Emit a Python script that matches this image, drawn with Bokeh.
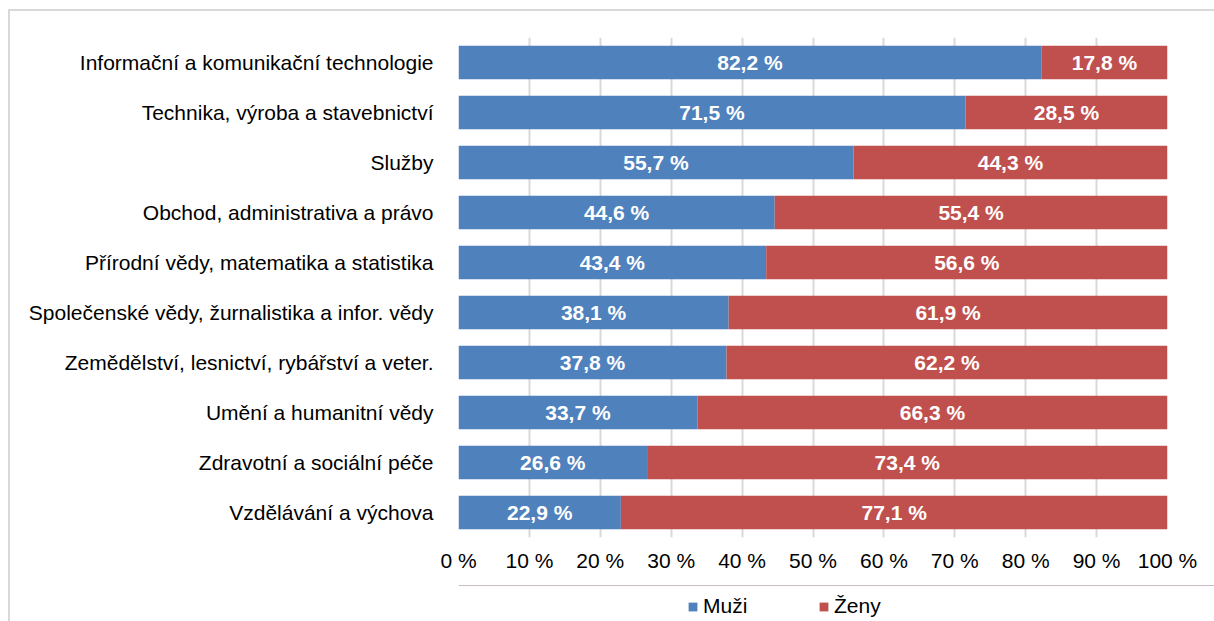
from bokeh.plotting import figure
from bokeh.layouts import column
from bokeh.models import (ColumnDataSource, FactorRange, Range1d, FixedTicker, LabelSet,
                          Legend, LegendItem)
from bokeh.core.properties import value
from bokeh.embed import file_html
from bokeh.resources import INLINE

categories = [
    "Informační a komunikační technologie",
    "Technika, výroba a stavebnictví",
    "Služby",
    "Obchod, administrativa a právo",
    "Přírodní vědy, matematika a statistika",
    "Společenské vědy, žurnalistika a infor. vědy",
    "Zemědělství, lesnictví, rybářství a veter.",
    "Umění a humanitní vědy",
    "Zdravotní a sociální péče",
    "Vzdělávání a výchova",
]
muzi = [82.2, 71.5, 55.7, 44.6, 43.4, 38.1, 37.8, 33.7, 26.6, 22.9]
zeny = [17.8, 28.5, 44.3, 55.4, 56.6, 61.9, 62.2, 66.3, 73.4, 77.1]
x_ticks = [0, 10, 20, 30, 40, 50, 60, 70, 80, 90, 100]
series_names = ["Muži", "Ženy"]

BLUE = "#4F81BD"
RED = "#C0504D"
FONT = "Liberation Sans"


def fmt(v):
    return f"{v:.1f}".replace(".", ",") + " %"


source = ColumnDataSource(dict(
    cat=categories,
    m=muzi,
    z=zeny,
    mx=[v / 2 for v in muzi],
    zx=[a + b / 2 for a, b in zip(muzi, zeny)],
    mt=[fmt(v) for v in muzi],
    zt=[fmt(v) for v in zeny],
))

p = figure(
    y_range=FactorRange(factors=categories[::-1], range_padding=0),
    x_range=Range1d(0, 100),
    frame_width=709, frame_height=500,
    output_backend="svg", toolbar_location=None,
    min_border_left=448, min_border_right=47,
    min_border_top=26, min_border_bottom=48,
)
p.outline_line_color = None
p.background_fill_color = "white"
p.border_fill_color = "white"

rs = p.hbar_stack(["m", "z"], y="cat", height=0.67, color=[BLUE, RED],
                  line_color=None, source=source)

for xcol, tcol in (("mx", "mt"), ("zx", "zt")):
    p.add_layout(LabelSet(x=xcol, y="cat", text=tcol, source=source,
                          text_align="center", text_baseline="middle",
                          text_color="white", text_font=value(FONT),
                          text_font_style="bold", text_font_size="21px"))

# grid
p.ygrid.grid_line_color = None
p.xgrid.ticker = FixedTicker(ticks=x_ticks)
p.xgrid.grid_line_color = "#d9d9d9"
p.xgrid.grid_line_width = 2

# x axis
p.xaxis.ticker = FixedTicker(ticks=x_ticks)
p.xaxis.major_label_overrides = {t: f"{t} %" for t in x_ticks}
p.xaxis.axis_line_color = None
p.xaxis.major_tick_line_color = None
p.xaxis.minor_tick_line_color = None
p.xaxis.major_label_text_font = FONT
p.xaxis.major_label_text_font_size = "21px"
p.xaxis.major_label_text_color = "black"
p.xaxis.major_label_standoff = 5

# y axis
p.yaxis.axis_line_color = None
p.yaxis.major_tick_line_color = None
p.yaxis.minor_tick_line_color = None
p.yaxis.major_label_text_font = FONT
p.yaxis.major_label_text_font_size = "21px"
p.yaxis.major_label_text_color = "black"
p.yaxis.major_label_standoff = 19

# legend strip (separate small figure so the legend is not clipped)
p2 = figure(
    x_range=Range1d(0, 1), y_range=Range1d(0, 1),
    frame_width=1204, frame_height=36,
    x_axis_type=None, y_axis_type=None,
    output_backend="svg", toolbar_location=None,
    min_border_left=0, min_border_right=0, min_border_top=0, min_border_bottom=0,
)
p2.outline_line_color = None
p2.border_fill_color = "white"
p2.background_fill_color = "white"
# proxy bars lie outside the strip's visible range; they only feed the legend swatches
proxy = ColumnDataSource(dict(y=[5], right=[5]))
lr1 = p2.hbar(y="y", right="right", height=0.5, color=BLUE, line_color=None, source=proxy)
lr2 = p2.hbar(y="y", right="right", height=0.5, color=RED, line_color=None, source=proxy)

legend = Legend(
    items=[LegendItem(label=series_names[0], renderers=[lr1], index=0),
           LegendItem(label=series_names[1], renderers=[lr2], index=0)],
    location=(677, 3), orientation="horizontal",
    glyph_width=11, glyph_height=11, label_standoff=5, spacing=11,
    label_width=104,
    padding=0, margin=0, border_line_color=None, background_fill_alpha=0,
    label_text_font=FONT, label_text_font_size="21px", label_text_color="black",
    label_height=21,
)
p2.add_layout(legend, "center")

layout = column(p, p2, spacing=0,
                styles={"margin-left": "8px", "margin-top": "9px",
                        "border-top": "2px solid #d9d9d9",
                        "border-left": "2px solid #d9d9d9"})

open("out.html", "w").write(file_html(layout, INLINE))
